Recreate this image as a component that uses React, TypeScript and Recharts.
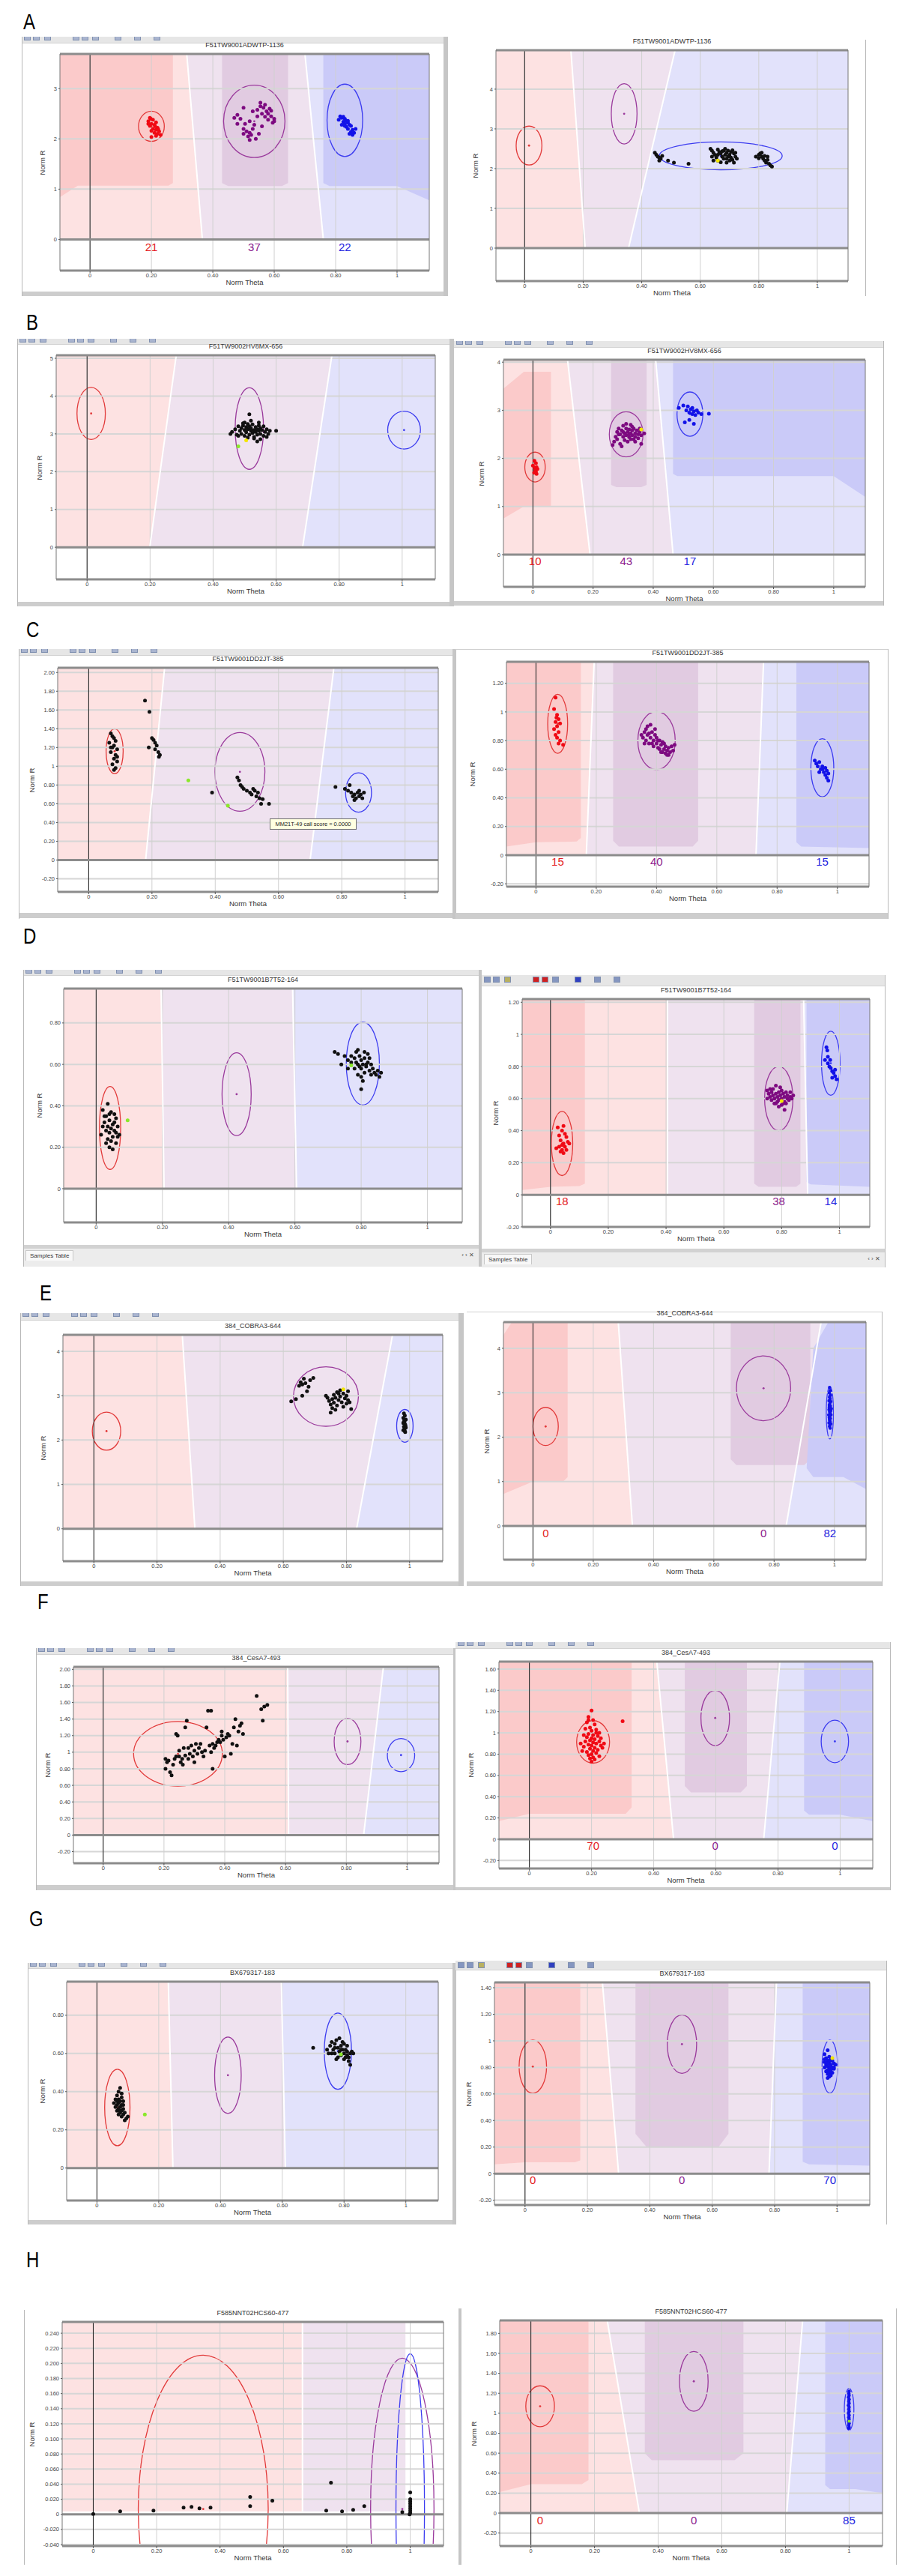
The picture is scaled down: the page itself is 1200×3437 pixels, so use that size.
import React from 'react';
import { ComposedChart, Scatter, XAxis, YAxis, ReferenceArea, ReferenceLine, ReferenceDot } from 'recharts';

type Pt = [number, number];

const SANS = '"Liberation Sans", Arial, sans-serif';
const XL = -0.098;
const XR = 1.105;
const X_TICKS = [0, 0.2, 0.4, 0.6, 0.8, 1];

// ---------------- titles ----------------
const TITLE_A = 'F51TW9001ADWTP-1136';
const TITLE_B = 'F51TW9002HV8MX-656';
const TITLE_C = 'F51TW9001DD2JT-385';
const TITLE_D = 'F51TW9001B7T52-164';
const TITLE_E = '384_COBRA3-644';
const TITLE_F = '384_CesA7-493';
const TITLE_G = 'BX679317-183';
const TITLE_H = 'F585NNT02HCS60-477';
const ROW_LETTERS = ['A', 'B', 'C', 'D', 'E', 'F', 'G', 'H'];

// ---------------- y axis ----------------
const yInt4 = [0, 1, 2, 3];
const yInt5 = [0, 1, 2, 3, 4];
const yInt6 = [0, 1, 2, 3, 4, 5];
const yDec20 = [-0.2, 0, 0.2, 0.4, 0.6, 0.8, 1, 1.2, 1.4, 1.6, 1.8, 2];
const yDec12 = [-0.2, 0, 0.2, 0.4, 0.6, 0.8, 1, 1.2];
const yDec08 = [0, 0.2, 0.4, 0.6, 0.8];
const yDec16 = [-0.2, 0, 0.2, 0.4, 0.6, 0.8, 1, 1.2, 1.4, 1.6];
const yDec14 = [-0.2, 0, 0.2, 0.4, 0.6, 0.8, 1, 1.2, 1.4];
const yDec18 = [-0.2, 0, 0.2, 0.4, 0.6, 0.8, 1, 1.2, 1.4, 1.6, 1.8];
const yMilli = [-0.04, -0.02, 0, 0.02, 0.04, 0.06, 0.08, 0.1, 0.12, 0.14, 0.16, 0.18, 0.2, 0.22, 0.24];

const aL_yDom: Pt = [-0.62, 3.69];
const aR_yDom: Pt = [-0.83, 4.98];
const bL_yDom: Pt = [-0.85, 5.08];
const bR_yDom: Pt = [-0.67, 4.05];
const cL_yDom: Pt = [-0.34, 2.05];
const cR_yDom: Pt = [-0.22, 1.35];
const dL_yDom: Pt = [-0.163, 0.966];
const dR_yDom: Pt = [-0.2, 1.22];
const eL_yDom: Pt = [-0.73, 4.37];
const eR_yDom: Pt = [-0.76, 4.59];
const fL_yDom: Pt = [-0.34, 2.03];
const fR_yDom: Pt = [-0.275, 1.67];
const gL_yDom: Pt = [-0.17, 0.976];
const gR_yDom: Pt = [-0.236, 1.44];
const hL_yDom: Pt = [-0.042, 0.255];
const hR_yDom: Pt = [-0.33, 1.93];

// ---------------- cluster boundaries: [theta at top, theta at R=0] ----------------
const aL_bounds: Pt[] = [[0.315, 0.366], [0.7, 0.76]];
const aR_bounds: Pt[] = [[0.158, 0.207], [0.514, 0.355]];
const bL_bounds: Pt[] = [[0.283, 0.199], [0.777, 0.684]];
const bR_bounds: Pt[] = [[0.115, 0.19], [0.408, 0.466]];
const cL_bounds: Pt[] = [[0.24, 0.18], [0.775, 0.7]];
const cR_bounds: Pt[] = [[0.193, 0.167], [0.755, 0.73]];
const dL_bounds: Pt[] = [[0.196, 0.205], [0.593, 0.605]];
const dR_bounds: Pt[] = [[0.405, 0.405], [0.876, 0.89]];
const eL_bounds: Pt[] = [[0.28, 0.32], [0.946, 0.832]];
const eR_bounds: Pt[] = [[0.283, 0.33], [0.956, 0.84]];
const fL_bounds: Pt[] = [[0.607, 0.61], [0.922, 0.857]];
const fR_bounds: Pt[] = [[0.41, 0.464], [0.806, 0.754]];
const gL_bounds: Pt[] = [[0.231, 0.246], [0.597, 0.61]];
const gR_bounds: Pt[] = [[0.248, 0.3], [0.806, 0.782]];
const hL_bounds: Pt[] = [[0.66, 0.66], [0.985, 0.985]];
const hR_bounds: Pt[] = [[0.24, 0.341], [0.854, 0.804]];

// ---------------- darker core regions (-9 / 9 / 99 = plot edge) ----------------
const aL_dark: Pt[][] = [
  [[-9, 99], [0.27, 99], [0.27, 1.12], [0.255, 1.07], [-0.04, 1.07], [-9, 0.84]],
  [[0.43, 99], [0.645, 99], [0.645, 1.12], [0.625, 1.06], [0.45, 1.06], [0.43, 1.12]],
  [[0.76, 99], [9, 99], [9, 0.78], [1.0, 1.06], [0.78, 1.06], [0.76, 1.12]],
];
const bR_dark: Pt[][] = [
  [[-9, 3.45], [-0.03, 3.8], [0.06, 3.8], [0.06, 1.0], [-0.03, 1.0], [-9, 0.75]],
  [[0.26, 99], [0.378, 99], [0.378, 1.45], [0.36, 1.4], [0.278, 1.4], [0.26, 1.45]],
  [[0.466, 99], [9, 99], [9, 1.2], [1.0, 1.63], [0.48, 1.63], [0.466, 1.68]],
];
const cR_dark: Pt[][] = [
  [[-9, 99], [0.149, 99], [0.149, 0.12], [0.135, 0.095], [0, 0.09], [-9, 0.06]],
  [[0.256, 99], [0.538, 99], [0.538, 0.1], [0.52, 0.06], [0.275, 0.06], [0.256, 0.1]],
  [[0.864, 99], [9, 99], [9, 0.05], [0.88, 0.06], [0.864, 0.09]],
];
const dR_dark: Pt[][] = [
  [[-9, 99], [0.119, 99], [0.119, 0.07], [0.1, 0.055], [0, 0.05], [-9, 0.03]],
  [[0.705, 99], [0.865, 99], [0.865, 0.07], [0.85, 0.05], [0.72, 0.05], [0.705, 0.07]],
  [[0.886, 99], [9, 99], [9, 0.05], [0.9, 0.065], [0.886, 0.08]],
];
const eR_dark: Pt[][] = [
  [[-9, 4.3], [-0.07, 99], [0.115, 99], [0.115, 1.1], [0.1, 1.0], [0, 1.0], [-9, 0.72]],
  [[0.656, 99], [0.92, 99], [0.92, 1.5], [0.9, 1.37], [0.675, 1.37], [0.656, 1.5]],
  [[0.98, 99], [9, 99], [9, 0.83], [1.03, 1.1], [0.93, 1.1], [0.908, 1.3], [0.93, 4.0]],
];
const fR_dark: Pt[][] = [
  [[-9, 99], [0.329, 99], [0.329, 0.3], [0.31, 0.24], [0, 0.24], [-9, 0.17]],
  [[0.5, 99], [0.7, 99], [0.7, 0.5], [0.68, 0.44], [0.52, 0.44], [0.5, 0.5]],
  [[0.884, 99], [9, 99], [9, 0.17], [1.0, 0.23], [0.9, 0.23], [0.884, 0.27]],
];
const gR_dark: Pt[][] = [
  [[-9, 99], [0.177, 99], [0.177, 0.1], [0.16, 0.085], [0, 0.085], [-9, 0.07]],
  [[0.354, 99], [0.652, 99], [0.652, 0.3], [0.62, 0.2], [0.39, 0.2], [0.354, 0.3]],
  [[0.89, 99], [9, 99], [9, 0.06], [0.91, 0.07], [0.89, 0.09]],
];
const hR_dark: Pt[][] = [
  [[-9, 99], [0.181, 99], [0.181, 0.33], [0.16, 0.29], [0, 0.29], [-9, 0.21]],
  [[0.358, 99], [0.668, 99], [0.668, 0.6], [0.64, 0.53], [0.38, 0.53], [0.358, 0.6]],
  [[0.925, 99], [9, 99], [9, 0.2], [1.02, 0.24], [0.94, 0.24], [0.925, 0.28]],
];

// ---------------- cluster ellipses [cx, cy, rx, ry]: AA, AB, BB ----------------
const aL_ell = [[0.2, 2.25, 0.042, 0.3], [0.535, 2.35, 0.1, 0.72], [0.83, 2.37, 0.058, 0.72]];
const aR_ell = [[0.015, 2.58, 0.044, 0.49], [0.34, 3.38, 0.044, 0.76], [0.67, 2.32, 0.21, 0.35]];
const bL_ell = [[0.013, 3.54, 0.045, 0.69], [0.515, 3.14, 0.045, 1.08], [1.006, 3.1, 0.052, 0.5]];
const bR_ell = [[0.007, 1.82, 0.034, 0.31], [0.31, 2.5, 0.056, 0.47], [0.522, 2.92, 0.043, 0.46]];
const cL_ell = [[0.082, 1.16, 0.027, 0.24], [0.478, 0.94, 0.079, 0.42], [0.853, 0.72, 0.041, 0.21]];
const cR_ell = [[0.072, 0.917, 0.033, 0.206], [0.4, 0.8, 0.062, 0.203], [0.95, 0.61, 0.038, 0.203]];
const dL_ell = [[0.042, 0.293, 0.032, 0.2], [0.424, 0.456, 0.044, 0.2], [0.805, 0.604, 0.05, 0.2]];
const dR_ell = [[0.04, 0.32, 0.037, 0.2], [0.79, 0.6, 0.049, 0.2], [0.97, 0.82, 0.032, 0.2]];
const eL_ell = [[0.04, 2.2, 0.045, 0.43], [0.735, 2.98, 0.103, 0.67], [0.985, 2.32, 0.026, 0.37]];
const eR_ell = [[0.042, 2.24, 0.042, 0.43], [0.765, 3.1, 0.09, 0.73], [0.985, 2.55, 0.012, 0.59]];
const fL_ell = [[0.246, 0.98, 0.146, 0.39], [0.804, 1.13, 0.044, 0.28], [0.98, 0.965, 0.045, 0.2]];
const fR_ell = [[0.205, 0.915, 0.053, 0.2], [0.598, 1.14, 0.046, 0.26], [0.983, 0.92, 0.044, 0.2]];
const gL_ell = [[0.066, 0.317, 0.041, 0.2], [0.424, 0.486, 0.043, 0.2], [0.78, 0.612, 0.044, 0.2]];
const gR_ell = [[0.025, 0.806, 0.044, 0.2], [0.503, 0.975, 0.047, 0.22], [0.977, 0.806, 0.025, 0.2]];
const hL_ell = [[0.347, 0.007, 0.205, 0.204], [0.975, 0.007, 0.1, 0.2], [1.0, 0.007, 0.045, 0.206]];
const hR_ell = [[0.029, 1.07, 0.045, 0.205], [0.512, 1.32, 0.045, 0.3], [1.0, 1.04, 0.015, 0.21]];

// ---------------- genotype counts ----------------
const aL_counts = [21, 37, 22];
const bR_counts = [10, 43, 17];
const cR_counts = [15, 40, 15];
const dR_counts = [18, 38, 14];
const eR_counts = [0, 0, 82];
const fR_counts = [70, 0, 0];
const gR_counts = [0, 0, 70];
const hR_counts = [0, 0, 85];
const countRow = { aL: -0.15, bR: -0.14, cR: -0.047, dR: -0.04, eR: -0.17, fR: -0.063, gR: -0.05, hR: -0.07 };

// ---------------- samples (Norm Theta, Norm R) ----------------
const aL_red: Pt[] = [[0.195, 2.42], [0.205, 2.38], [0.19, 2.35], [0.215, 2.33], [0.2, 2.3], [0.21, 2.28], [0.195, 2.26], [0.22, 2.22], [0.205, 2.2], [0.215, 2.18], [0.2, 2.16], [0.225, 2.15], [0.21, 2.12], [0.22, 2.1], [0.215, 2.06], [0.2, 2.04], [0.23, 2.08], [0.19, 2.3], [0.212, 2.25], [0.198, 2.4], [0.222, 2.19]];
const aL_pur: Pt[] = [[0.555, 2.72], [0.57, 2.68], [0.565, 2.62], [0.585, 2.6], [0.575, 2.55], [0.56, 2.5], [0.59, 2.45], [0.6, 2.4], [0.58, 2.38], [0.595, 2.32], [0.545, 2.58], [0.53, 2.55], [0.5, 2.62], [0.48, 2.48], [0.47, 2.42], [0.49, 2.4], [0.52, 2.35], [0.505, 2.3], [0.51, 2.15], [0.52, 2.12], [0.5, 2.1], [0.525, 2.08], [0.515, 2.05], [0.53, 2.2], [0.54, 2.0], [0.55, 2.1], [0.56, 2.25], [0.48, 2.3], [0.545, 2.45], [0.57, 2.44], [0.58, 2.5], [0.6, 2.35], [0.535, 2.28], [0.59, 2.56], [0.555, 2.65], [0.5, 2.2], [0.52, 1.98]];
const aL_blu: Pt[] = [[0.815, 2.45], [0.82, 2.42], [0.83, 2.4], [0.835, 2.36], [0.825, 2.34], [0.84, 2.32], [0.83, 2.3], [0.845, 2.28], [0.85, 2.26], [0.835, 2.24], [0.84, 2.2], [0.855, 2.18], [0.85, 2.14], [0.86, 2.12], [0.845, 2.1], [0.82, 2.28], [0.81, 2.38], [0.865, 2.2], [0.83, 2.26], [0.825, 2.44], [0.84, 2.36], [0.855, 2.08]];

const aR_blk: Pt[] = [[0.445, 2.4], [0.45, 2.35], [0.455, 2.3], [0.46, 2.28], [0.465, 2.25], [0.47, 2.32], [0.49, 2.2], [0.51, 2.15], [0.56, 2.12], [0.46, 2.2],
  [0.635, 2.5], [0.64, 2.45], [0.645, 2.4], [0.65, 2.35], [0.64, 2.3], [0.66, 2.48], [0.665, 2.42], [0.67, 2.38], [0.68, 2.45], [0.685, 2.5], [0.69, 2.4], [0.7, 2.35], [0.695, 2.3], [0.705, 2.42], [0.71, 2.46], [0.715, 2.38], [0.72, 2.3], [0.725, 2.25], [0.71, 2.22], [0.7, 2.2], [0.69, 2.15], [0.68, 2.25], [0.675, 2.3], [0.66, 2.2], [0.655, 2.28], [0.645, 2.2], [0.67, 2.16], [0.685, 2.35], [0.695, 2.45], [0.705, 2.28], [0.715, 2.15], [0.72, 2.4], [0.66, 2.35], [0.675, 2.44], [0.69, 2.25],
  [0.79, 2.3], [0.8, 2.35], [0.805, 2.38], [0.81, 2.3], [0.815, 2.25], [0.82, 2.32], [0.82, 2.2], [0.825, 2.15], [0.83, 2.22], [0.835, 2.12], [0.84, 2.08], [0.845, 2.05], [0.8, 2.26], [0.83, 2.3], [0.81, 2.4]];
const aR_yel: Pt[] = [[0.66, 2.2]];

const bL_blk: Pt[] = [[0.46, 3.05], [0.47, 3.12], [0.475, 2.98], [0.48, 3.2], [0.485, 3.08], [0.49, 3.15], [0.49, 3.0], [0.495, 3.22], [0.5, 3.1], [0.5, 2.95], [0.505, 3.18], [0.505, 3.04], [0.51, 3.26], [0.51, 3.12], [0.515, 2.98], [0.515, 3.2], [0.52, 3.08], [0.52, 3.15], [0.525, 3.02], [0.525, 3.25], [0.53, 3.1], [0.53, 2.92], [0.535, 3.18], [0.535, 3.05], [0.54, 3.12], [0.54, 2.98], [0.545, 3.22], [0.545, 3.08], [0.55, 3.15], [0.55, 3.0], [0.555, 3.1], [0.56, 3.2], [0.56, 2.95], [0.565, 3.05], [0.57, 3.12], [0.575, 3.0], [0.58, 3.08], [0.6, 3.08], [0.5, 3.3], [0.52, 3.35], [0.515, 3.52], [0.48, 2.95], [0.53, 2.88], [0.55, 2.86], [0.54, 2.8], [0.57, 2.92], [0.455, 3.0], [0.51, 2.9], [0.495, 3.28], [0.545, 3.3]];
const bL_yel: Pt[] = [[0.505, 2.83]];
const bL_grn: Pt[] = [[0.48, 2.67]];

const bR_red: Pt[] = [[0.005, 1.95], [0.01, 1.9], [0.0, 1.85], [0.012, 1.82], [0.006, 1.8], [0.015, 1.78], [0.008, 1.75], [0.01, 1.72], [0.004, 1.7], [0.012, 1.68]];
const bR_pur: Pt[] = [[0.27, 2.35], [0.275, 2.45], [0.28, 2.55], [0.28, 2.4], [0.285, 2.62], [0.29, 2.5], [0.29, 2.3], [0.295, 2.58], [0.3, 2.45], [0.3, 2.68], [0.305, 2.52], [0.305, 2.38], [0.31, 2.62], [0.31, 2.48], [0.315, 2.55], [0.315, 2.35], [0.32, 2.6], [0.32, 2.44], [0.325, 2.52], [0.325, 2.7], [0.33, 2.48], [0.33, 2.58], [0.335, 2.4], [0.335, 2.62], [0.34, 2.52], [0.34, 2.45], [0.345, 2.58], [0.35, 2.5], [0.35, 2.42], [0.355, 2.55], [0.36, 2.48], [0.36, 2.3], [0.295, 2.25], [0.265, 2.28], [0.31, 2.72], [0.3, 2.55], [0.32, 2.5], [0.325, 2.4], [0.285, 2.5], [0.33, 2.66], [0.34, 2.35], [0.355, 2.62], [0.37, 2.52]];
const bR_blu: Pt[] = [[0.485, 3.05], [0.5, 3.1], [0.51, 3.0], [0.515, 3.08], [0.52, 2.95], [0.525, 3.02], [0.53, 2.92], [0.53, 3.05], [0.535, 2.98], [0.54, 2.9], [0.545, 3.0], [0.55, 2.95], [0.56, 2.92], [0.585, 2.93], [0.52, 2.8], [0.505, 2.75], [0.535, 2.72]];
const bR_yel: Pt[] = [[0.36, 2.6]];

const cL_blk: Pt[] = [[0.07, 1.35], [0.075, 1.32], [0.08, 1.3], [0.065, 1.25], [0.085, 1.27], [0.08, 1.22], [0.075, 1.2], [0.09, 1.18], [0.07, 1.15], [0.085, 1.12], [0.08, 1.08], [0.09, 1.05], [0.075, 1.02], [0.085, 0.98], [0.08, 0.96], [0.09, 1.1], [0.07, 1.2],
  [0.178, 1.7], [0.192, 1.58],
  [0.19, 1.2], [0.2, 1.3], [0.205, 1.28], [0.21, 1.25], [0.21, 1.18], [0.215, 1.22], [0.22, 1.15], [0.225, 1.12], [0.222, 1.1],
  [0.39, 0.72],
  [0.47, 0.88], [0.475, 0.85], [0.48, 0.8], [0.485, 0.78], [0.49, 0.76], [0.5, 0.74], [0.51, 0.72], [0.515, 0.7], [0.52, 0.76], [0.525, 0.74], [0.53, 0.68], [0.535, 0.72], [0.54, 0.66], [0.545, 0.6], [0.55, 0.65], [0.57, 0.6],
  [0.78, 0.78], [0.81, 0.76], [0.82, 0.74], [0.825, 0.8], [0.83, 0.72], [0.835, 0.68], [0.84, 0.7], [0.845, 0.66], [0.85, 0.72], [0.855, 0.68], [0.86, 0.7], [0.865, 0.66], [0.87, 0.72], [0.84, 0.64], [0.855, 0.74]];
const cL_grn: Pt[] = [[0.315, 0.85], [0.44, 0.58]];

const cR_red: Pt[] = [[0.065, 1.1], [0.06, 1.02], [0.07, 0.98], [0.075, 0.95], [0.065, 0.93], [0.08, 0.92], [0.07, 0.9], [0.06, 0.88], [0.075, 0.86], [0.065, 0.84], [0.07, 0.82], [0.08, 0.8], [0.075, 0.78], [0.09, 0.77], [0.068, 0.96]];
const cR_pur: Pt[] = [[0.35, 0.84], [0.355, 0.82], [0.36, 0.86], [0.365, 0.8], [0.37, 0.9], [0.37, 0.84], [0.375, 0.78], [0.38, 0.82], [0.38, 0.91], [0.385, 0.86], [0.39, 0.8], [0.39, 0.76], [0.395, 0.84], [0.4, 0.78], [0.4, 0.82], [0.405, 0.75], [0.41, 0.8], [0.41, 0.74], [0.415, 0.77], [0.42, 0.72], [0.42, 0.79], [0.425, 0.74], [0.43, 0.76], [0.43, 0.71], [0.435, 0.73], [0.44, 0.75], [0.44, 0.7], [0.445, 0.72], [0.45, 0.76], [0.455, 0.73], [0.46, 0.77], [0.36, 0.78], [0.365, 0.88], [0.385, 0.78], [0.395, 0.88], [0.405, 0.8], [0.415, 0.72], [0.425, 0.78], [0.375, 0.85], [0.435, 0.7]];
const cR_blu: Pt[] = [[0.925, 0.66], [0.93, 0.64], [0.935, 0.62], [0.94, 0.65], [0.945, 0.6], [0.95, 0.62], [0.955, 0.58], [0.96, 0.61], [0.96, 0.56], [0.965, 0.59], [0.97, 0.57], [0.965, 0.54], [0.97, 0.52], [0.95, 0.6], [0.94, 0.58]];

const dL_blk: Pt[] = [[0.035, 0.41], [0.02, 0.38], [0.045, 0.37], [0.055, 0.36], [0.03, 0.35], [0.06, 0.34], [0.04, 0.33], [0.025, 0.32], [0.05, 0.31], [0.065, 0.3], [0.035, 0.3], [0.045, 0.29], [0.055, 0.28], [0.03, 0.28], [0.04, 0.27], [0.06, 0.27], [0.07, 0.26], [0.015, 0.26], [0.05, 0.25], [0.035, 0.24], [0.045, 0.23], [0.03, 0.22], [0.04, 0.2], [0.05, 0.19], [0.055, 0.32], [0.025, 0.35], [0.065, 0.25], [0.04, 0.36], [0.02, 0.3], [0.06, 0.22],
  [0.72, 0.66], [0.73, 0.65], [0.75, 0.64], [0.76, 0.62], [0.77, 0.61], [0.78, 0.63], [0.785, 0.66], [0.79, 0.67], [0.795, 0.64], [0.8, 0.62], [0.805, 0.6], [0.81, 0.63], [0.815, 0.59], [0.82, 0.61], [0.825, 0.57], [0.83, 0.6], [0.835, 0.58], [0.84, 0.56], [0.845, 0.55], [0.85, 0.57], [0.855, 0.54], [0.8, 0.58], [0.79, 0.6], [0.81, 0.56], [0.78, 0.58], [0.82, 0.65], [0.77, 0.64], [0.76, 0.58], [0.8, 0.54], [0.79, 0.55], [0.805, 0.52], [0.81, 0.66], [0.8, 0.48], [0.74, 0.6], [0.825, 0.63], [0.83, 0.55], [0.795, 0.59], [0.785, 0.61], [0.815, 0.6], [0.86, 0.56]];
const dL_grn: Pt[] = [[0.095, 0.33], [0.77, 0.595]];

const dR_red: Pt[] = [[0.025, 0.42], [0.045, 0.43], [0.04, 0.4], [0.05, 0.38], [0.03, 0.37], [0.055, 0.36], [0.035, 0.34], [0.06, 0.33], [0.045, 0.32], [0.04, 0.31], [0.05, 0.3], [0.03, 0.3], [0.055, 0.28], [0.04, 0.28], [0.045, 0.26], [0.035, 0.27], [0.065, 0.32], [0.02, 0.29]];
const dR_pur: Pt[] = [[0.75, 0.65], [0.755, 0.63], [0.76, 0.61], [0.765, 0.64], [0.77, 0.62], [0.77, 0.66], [0.775, 0.6], [0.78, 0.63], [0.78, 0.68], [0.785, 0.61], [0.79, 0.64], [0.79, 0.59], [0.795, 0.62], [0.8, 0.6], [0.8, 0.65], [0.805, 0.63], [0.81, 0.61], [0.81, 0.58], [0.815, 0.64], [0.82, 0.6], [0.82, 0.62], [0.825, 0.59], [0.83, 0.61], [0.835, 0.6], [0.84, 0.62], [0.78, 0.57], [0.79, 0.55], [0.8, 0.56], [0.785, 0.58], [0.775, 0.57], [0.765, 0.59], [0.81, 0.53], [0.76, 0.66], [0.795, 0.67], [0.805, 0.57], [0.815, 0.57], [0.83, 0.64], [0.75, 0.6]];
const dR_blu: Pt[] = [[0.955, 0.92], [0.958, 0.9], [0.95, 0.84], [0.96, 0.82], [0.965, 0.8], [0.97, 0.79], [0.968, 0.84], [0.975, 0.77], [0.98, 0.76], [0.985, 0.74], [0.975, 0.73], [0.99, 0.72], [0.96, 0.86], [0.985, 0.78]];
const dR_yel: Pt[] = [[0.8, 0.585]];

const eL_blk: Pt[] = [[0.625, 2.87], [0.64, 2.92], [0.65, 3.22], [0.655, 3.3], [0.66, 3.25], [0.665, 3.38], [0.67, 3.28], [0.675, 3.1], [0.68, 3.2], [0.685, 3.35], [0.695, 3.4], [0.66, 3.0],
  [0.735, 3.0], [0.74, 2.95], [0.745, 2.88], [0.75, 2.8], [0.755, 2.72], [0.755, 2.92], [0.76, 3.02], [0.76, 2.84], [0.765, 2.95], [0.77, 2.78], [0.77, 3.08], [0.775, 2.9], [0.78, 2.98], [0.78, 3.12], [0.785, 2.85], [0.79, 3.05], [0.79, 2.75], [0.795, 2.94], [0.8, 3.0], [0.8, 2.82], [0.805, 3.1], [0.805, 2.9], [0.81, 2.85], [0.75, 2.62], [0.765, 2.68], [0.815, 2.7], [0.775, 3.05],
  [0.982, 2.6], [0.985, 2.55], [0.98, 2.5], [0.988, 2.46], [0.984, 2.42], [0.98, 2.38], [0.986, 2.35], [0.982, 2.3], [0.988, 2.28], [0.984, 2.25], [0.98, 2.22], [0.986, 2.18], [0.983, 2.45], [0.987, 2.32], [0.981, 2.4], [0.985, 2.2]];
const eL_yel: Pt[] = [[0.79, 3.14]];

const eR_blu: Pt[] = [[0.984, 3.12], [0.986, 3.05], [0.983, 3.0], [0.987, 2.95], [0.984, 2.9], [0.986, 2.86], [0.982, 2.82], [0.988, 2.8], [0.985, 2.76], [0.983, 2.72], [0.987, 2.7], [0.985, 2.66], [0.982, 2.62], [0.988, 2.6], [0.984, 2.57], [0.986, 2.54], [0.981, 2.5], [0.989, 2.5], [0.985, 2.47], [0.983, 2.44], [0.987, 2.42], [0.984, 2.38], [0.986, 2.35], [0.982, 2.32], [0.988, 2.3], [0.985, 2.27], [0.984, 2.24], [0.986, 2.2], [0.985, 2.92], [0.983, 2.68], [0.987, 2.58], [0.985, 2.52], [0.984, 2.4], [0.99, 2.64]];

const fL_blk: Pt[] = [[0.205, 0.92], [0.21, 0.88], [0.205, 0.8], [0.215, 0.9], [0.22, 0.76], [0.23, 0.85], [0.225, 0.72], [0.235, 0.92], [0.24, 0.95], [0.24, 1.22], [0.245, 1.2], [0.25, 1.02], [0.25, 0.95], [0.255, 0.88], [0.26, 0.92], [0.262, 0.85], [0.265, 1.05], [0.27, 0.96], [0.27, 1.3], [0.275, 1.38], [0.28, 0.92], [0.28, 1.05], [0.285, 0.98], [0.29, 1.08], [0.295, 0.95], [0.3, 1.02], [0.3, 0.88], [0.305, 1.1], [0.31, 0.98], [0.315, 1.05], [0.32, 1.1], [0.325, 1.0], [0.33, 0.95], [0.335, 1.02], [0.34, 1.3], [0.345, 1.5], [0.355, 1.5], [0.35, 1.08], [0.355, 1.0], [0.36, 0.8], [0.36, 1.1], [0.365, 1.05], [0.37, 1.08], [0.375, 1.12], [0.38, 1.15], [0.385, 1.12], [0.39, 1.2], [0.39, 1.25], [0.395, 1.15], [0.4, 0.95], [0.405, 1.18], [0.41, 1.22], [0.415, 1.2], [0.42, 0.98], [0.425, 1.1], [0.43, 1.3], [0.435, 1.4], [0.44, 1.08], [0.445, 1.25], [0.45, 1.32], [0.455, 1.35], [0.46, 1.22], [0.52, 1.52], [0.53, 1.55], [0.525, 1.38], [0.54, 1.57], [0.505, 1.68]];

const fR_red: Pt[] = [[0.2, 1.21], [0.19, 1.15], [0.205, 1.12], [0.185, 1.1], [0.21, 1.08], [0.195, 1.05], [0.18, 1.04], [0.2, 1.02], [0.215, 1.0], [0.19, 0.99], [0.205, 0.98], [0.22, 0.97], [0.185, 0.96], [0.2, 0.95], [0.21, 0.94], [0.195, 0.93], [0.225, 0.92], [0.18, 0.92], [0.205, 0.91], [0.215, 0.9], [0.19, 0.89], [0.2, 0.88], [0.23, 0.88], [0.175, 0.87], [0.21, 0.86], [0.195, 0.85], [0.22, 0.84], [0.205, 0.83], [0.185, 0.82], [0.215, 0.81], [0.2, 0.8], [0.19, 0.79], [0.225, 0.78], [0.205, 0.77], [0.195, 0.76], [0.21, 0.75], [0.2, 0.73], [0.17, 0.83], [0.235, 0.86], [0.24, 0.9], [0.23, 0.95], [0.165, 0.9], [0.19, 1.12], [0.215, 1.03], [0.3, 1.11], [0.175, 0.98], [0.225, 1.0]];

const gL_blk: Pt[] = [[0.075, 0.42], [0.07, 0.4], [0.065, 0.38], [0.08, 0.37], [0.06, 0.36], [0.075, 0.35], [0.085, 0.35], [0.07, 0.34], [0.08, 0.33], [0.065, 0.33], [0.06, 0.32], [0.075, 0.32], [0.085, 0.31], [0.07, 0.31], [0.08, 0.3], [0.065, 0.3], [0.075, 0.29], [0.09, 0.29], [0.07, 0.28], [0.085, 0.28], [0.08, 0.27], [0.095, 0.26], [0.09, 0.25], [0.1, 0.27], [0.055, 0.34], [0.07, 0.36], [0.08, 0.39], [0.065, 0.35], [0.075, 0.3], [0.085, 0.33],
  [0.7, 0.63], [0.745, 0.62], [0.75, 0.6], [0.755, 0.64], [0.76, 0.66], [0.765, 0.62], [0.77, 0.65], [0.77, 0.6], [0.775, 0.67], [0.78, 0.63], [0.78, 0.58], [0.785, 0.61], [0.79, 0.64], [0.79, 0.59], [0.795, 0.62], [0.8, 0.6], [0.8, 0.57], [0.805, 0.62], [0.81, 0.59], [0.81, 0.61], [0.815, 0.58], [0.82, 0.6], [0.825, 0.61], [0.83, 0.6], [0.815, 0.56], [0.82, 0.54], [0.76, 0.6], [0.775, 0.57], [0.795, 0.66], [0.785, 0.68], [0.8, 0.65], [0.805, 0.58], [0.79, 0.62], [0.77, 0.63], [0.81, 0.64]];
const gL_grn: Pt[] = [[0.155, 0.28], [0.79, 0.595]];

const gR_blu: Pt[] = [[0.97, 0.93], [0.96, 0.9], [0.975, 0.88], [0.965, 0.87], [0.98, 0.86], [0.97, 0.85], [0.985, 0.85], [0.96, 0.84], [0.975, 0.83], [0.99, 0.83], [0.965, 0.82], [0.98, 0.82], [0.97, 0.81], [0.985, 0.8], [0.96, 0.8], [0.975, 0.79], [0.99, 0.79], [0.97, 0.78], [0.98, 0.78], [0.965, 0.77], [0.985, 0.76], [0.975, 0.76], [0.97, 0.75], [0.98, 0.74], [0.975, 0.73], [0.97, 0.72], [0.99, 0.8], [0.995, 0.82], [0.96, 0.86], [0.975, 0.85], [0.98, 0.8], [0.97, 0.83]];
const gR_yel: Pt[] = [[0.985, 0.87]];

const hL_blk: Pt[] = [[0, 0.0005], [0.085, 0.004], [0.19, 0.005], [0.285, 0.009], [0.31, 0.01], [0.335, 0.008], [0.37, 0.009], [0.495, 0.023], [0.495, 0.011], [0.565, 0.018], [0.735, 0.005], [0.75, 0.042], [0.785, 0.004], [0.82, 0.006], [0.855, 0.011], [0.975, 0.003], [1.0, 0.029], [1.0, 0.02], [1.0, 0.017], [1.0, 0.014], [1.0, 0.011], [1.0, 0.008], [1.0, 0.005], [1.0, 0.002], [0.998, 0.0]];

const hR_blu: Pt[] = [[1.0, 1.22], [0.999, 1.2], [1.0, 1.18], [0.998, 1.16], [1.0, 1.14], [0.999, 1.12], [1.0, 1.1], [0.998, 1.08], [1.0, 1.06], [0.999, 1.04], [1.0, 1.02], [0.998, 1.0], [1.0, 0.98], [0.999, 0.96], [1.0, 0.94], [0.998, 0.92], [1.0, 0.9], [0.999, 0.88], [1.0, 0.86], [0.999, 0.85]];
const hR_grn: Pt[] = [[1.0, 0.92]];

// ---------------- styles ----------------
const FILL = { lRed: '#fde2e2', lPur: '#efe2ef', lBlu: '#e2e2fb', dRed: '#fbcaca', dPur: '#e1cbe1', dBlu: '#cacaf8' };
const ELL_COLORS = ['#e23a3a', '#9a3a9c', '#3c3cf0'];
const COUNT_COLORS = ['#e41b23', '#8b1c8e', '#2323e0'];
const PC = { blk: '#111111', red: '#f00a14', pur: '#7d0a80', blu: '#1212e8', yel: '#f2e600', grn: '#8be82a' };

const fmtX = (v: number) => (v === 0 ? '0' : v === 1 ? '1' : v.toFixed(2));
const fmtY = (dec: number) => (v: number) => {
  if (Math.abs(v) < 1e-9) return '0';
  if (dec === 0) return String(Math.round(v));
  if (Math.abs(v - 1) < 1e-9) return '1';
  return v.toFixed(dec);
};

function XTick(props: any) {
  const { x, y, payload } = props;
  return (
    <g transform={`translate(${x},${y})`}>
      <text textAnchor="middle" dy="0.72em" fontSize={7.5} fill="#444" fontFamily={SANS}>{fmtX(payload.value)}</text>
    </g>
  );
}
const yTick = (dec: number) => (props: any) => {
  const { x, y, payload } = props;
  return (
    <g transform={`translate(${x},${y})`}>
      <text textAnchor="end" dy="0.35em" fontSize={7.5} fill="#444" fontFamily={SANS}>{fmtY(dec)(payload.value)}</text>
    </g>
  );
};

const dot = (color: string, r: number) => (p: any) => <circle cx={p.cx} cy={p.cy} r={r} fill={color} />;
const countShape = (p: any) => {
  const d = p.payload ?? p;
  return (
    <text x={p.cx} y={p.cy} textAnchor="middle" dy="0.36em" fontSize={15} fill={d.c} fontFamily={SANS}>{d.t}</text>
  );
};
const ellShape = (color: string) => (p: any) => (
  <ellipse cx={p.x + p.width / 2} cy={p.y + p.height / 2} rx={Math.abs(p.width) / 2} ry={Math.abs(p.height) / 2} fill="none" stroke={color} strokeWidth={1.3} clipPath={p.clipPath} />
);
const regionShape = (xd: Pt, yd: Pt, polys: { pts: Pt[]; fill: string }[]) => (p: any) => {
  const { x, y, width, height } = p;
  const cl = (v: number, a: number, b: number) => Math.max(a, Math.min(b, v));
  const mx = (v: number) => x + ((cl(v, xd[0], xd[1]) - xd[0]) / (xd[1] - xd[0])) * width;
  const my = (v: number) => y + ((yd[1] - cl(v, yd[0], yd[1])) / (yd[1] - yd[0])) * height;
  return (
    <g>
      {polys.map((pl, i) => (
        <polygon key={i} points={pl.pts.map(([a, b]) => `${mx(a)},${my(b)}`).join(' ')} fill={pl.fill} stroke="none" />
      ))}
    </g>
  );
};

interface Series { pts: Pt[]; color: string; r?: number }
interface PanelData {
  title: string; ydom: Pt; yticks: number[]; ydec: number; bounds: Pt[]; dark: Pt[][]; ell: number[][];
  series: Series[]; counts?: number[]; countY?: number; regionBottom?: number; noBlue?: boolean;
}
interface Box { L: number; T: number; R: number; B: number; rdx: number }

function Panel({ d, b }: { d: PanelData; b: Box }) {
  const YW = 46, XH = 14, PT = 3, PR = 3;
  const x0 = XL, x1 = XR;
  const [y0, y1] = d.ydom;
  const rb = d.regionBottom ?? 0;
  const [[at, ab], [bt, bb]] = d.bounds;
  const polys: { pts: Pt[]; fill: string }[] = [
    { pts: [[x0, y1], [at, y1], [ab, rb], [x0, rb]], fill: FILL.lRed },
    { pts: [[at, y1], [bt, y1], [bb, rb], [ab, rb]], fill: FILL.lPur },
  ];
  if (!d.noBlue) polys.push({ pts: [[bt, y1], [x1, y1], [x1, rb], [bb, rb]], fill: FILL.lBlu });
  const darkFill = [FILL.dRed, FILL.dPur, FILL.dBlu];
  d.dark.forEach((pts, i) => polys.push({ pts, fill: darkFill[i] }));
  const countData = d.counts
    ? d.counts.map((t, i) => ({ x: d.ell[i][0], y: d.countY, t: String(t), c: COUNT_COLORS[i] }))
    : null;
  const W = b.R - b.L + YW + PR;
  const H = b.B - b.T + PT + XH;
  return (
    <>
      <div style={{ position: 'absolute', left: b.L - YW, top: b.T - PT }}>
        <ComposedChart width={W} height={H} margin={{ top: PT, right: PR, bottom: 0, left: 0 }}>
          <XAxis type="number" dataKey="x" domain={[x0, x1]} allowDataOverflow ticks={X_TICKS} interval={0}
            axisLine={false} tickLine={{ stroke: '#555' }} tickSize={3} tickMargin={1} height={XH} tick={XTick} />
          <YAxis type="number" dataKey="y" domain={[y0, y1]} allowDataOverflow ticks={d.yticks} interval={0}
            axisLine={false} tickLine={{ stroke: '#555' }} tickSize={2} tickMargin={2} width={YW} tick={yTick(d.ydec)} />
          <ReferenceArea x1={x0} x2={x1} y1={rb} y2={y1} ifOverflow="hidden" shape={regionShape([x0, x1], [rb, y1], polys)} />
          {d.yticks.map((t) => <ReferenceLine key={'h' + t} y={t} stroke="#d6d6d6" strokeWidth={2} />)}
          {X_TICKS.map((t) => <ReferenceLine key={'v' + t} x={t} stroke="#d0d0d0" strokeWidth={1} />)}
          <ReferenceLine segment={[{ x: at, y: y1 }, { x: ab, y: rb }]} stroke="#ffffff" strokeWidth={2} />
          {!d.noBlue && <ReferenceLine segment={[{ x: bt, y: y1 }, { x: bb, y: rb }]} stroke="#ffffff" strokeWidth={2} />}
          <ReferenceLine x={0} stroke="#1a1a1a" strokeWidth={1} />
          <ReferenceLine y={0} stroke="#8c8c8c" strokeWidth={3} />
          <ReferenceLine y={y1} stroke="#8c8c8c" strokeWidth={3} />
          <ReferenceLine y={y0} stroke="#8c8c8c" strokeWidth={3} />
          <ReferenceLine x={x0} stroke="#777" strokeWidth={1} />
          <ReferenceLine x={x1} stroke="#777" strokeWidth={1} />
          {d.ell.map(([cx, cy, rx, ry], i) => (
            <ReferenceArea key={'e' + i} x1={cx - rx} x2={cx + rx} y1={cy - ry} y2={cy + ry} ifOverflow="hidden" shape={ellShape(ELL_COLORS[i])} />
          ))}
          {d.ell.map(([cx, cy], i) => (
            <ReferenceDot key={'c' + i} x={cx} y={cy} r={1.4} fill={ELL_COLORS[i]} stroke="none" />
          ))}
          {d.series.map((s, i) => (
            <Scatter key={'s' + i} data={s.pts.map(([x, y]) => ({ x, y }))} shape={dot(s.color, s.r ?? 2.5)} isAnimationActive={false} />
          ))}
          {countData && <Scatter data={countData} shape={countShape} isAnimationActive={false} />}
        </ComposedChart>
      </div>
      <div style={{ position: 'absolute', left: (b.L + b.R) / 2 - 120, width: 240, top: b.T - 17, textAlign: 'center', fontSize: 9, lineHeight: '11px', fontFamily: SANS, color: '#333' }}>{d.title}</div>
      <div style={{ position: 'absolute', left: (b.L + b.R) / 2 - 60, width: 120, top: b.B + 10, textAlign: 'center', fontSize: 9.5, lineHeight: '11px', fontFamily: SANS, color: '#333' }}>Norm Theta</div>
      <div style={{ position: 'absolute', left: b.L - b.rdx - 30, width: 60, top: (b.T + b.B) / 2 - 6, textAlign: 'center', fontSize: 9.5, lineHeight: '12px', fontFamily: SANS, color: '#333', transform: 'rotate(-90deg)' }}>Norm R</div>
    </>
  );
}

// ---------------- panel assembly ----------------
const PANELS: { d: PanelData; b: Box }[] = [
  { b: { L: 80, T: 72, R: 573, B: 361, rdx: 23 }, d: { title: TITLE_A, ydom: aL_yDom, yticks: yInt4, ydec: 0, bounds: aL_bounds, dark: aL_dark, ell: aL_ell,
    series: [{ pts: aL_red, color: PC.red }, { pts: aL_pur, color: PC.pur }, { pts: aL_blu, color: PC.blu }], counts: aL_counts, countY: countRow.aL } },
  { b: { L: 662, T: 67, R: 1132, B: 375, rdx: 27 }, d: { title: TITLE_A, ydom: aR_yDom, yticks: yInt5, ydec: 0, bounds: aR_bounds, dark: [], ell: aR_ell,
    series: [{ pts: aR_blk, color: PC.blk }, { pts: aR_yel, color: PC.yel }] } },
  { b: { L: 75, T: 474, R: 581, B: 773, rdx: 22 }, d: { title: TITLE_B, ydom: bL_yDom, yticks: yInt6, ydec: 0, bounds: bL_bounds, dark: [], ell: bL_ell,
    series: [{ pts: bL_blk, color: PC.blk }, { pts: bL_yel, color: PC.yel }, { pts: bL_grn, color: PC.grn }] } },
  { b: { L: 672, T: 480, R: 1155, B: 783, rdx: 29 }, d: { title: TITLE_B, ydom: bR_yDom, yticks: yInt5, ydec: 0, bounds: bR_bounds, dark: bR_dark, ell: bR_ell,
    series: [{ pts: bR_red, color: PC.red }, { pts: bR_pur, color: PC.pur }, { pts: bR_blu, color: PC.blu }, { pts: bR_yel, color: PC.yel }], counts: bR_counts, countY: countRow.bR } },
  { b: { L: 77, T: 891, R: 585, B: 1190, rdx: 34 }, d: { title: TITLE_C, ydom: cL_yDom, yticks: yDec20, ydec: 2, bounds: cL_bounds, dark: [], ell: cL_ell,
    series: [{ pts: cL_blk, color: PC.blk }, { pts: cL_grn, color: PC.grn }] } },
  { b: { L: 676, T: 883, R: 1160, B: 1183, rdx: 45 }, d: { title: TITLE_C, ydom: cR_yDom, yticks: yDec12, ydec: 2, bounds: cR_bounds, dark: cR_dark, ell: cR_ell,
    series: [{ pts: cR_red, color: PC.red }, { pts: cR_pur, color: PC.pur }, { pts: cR_blu, color: PC.blu }], counts: cR_counts, countY: countRow.cR } },
  { b: { L: 85, T: 1319, R: 617, B: 1631, rdx: 32 }, d: { title: TITLE_D, ydom: dL_yDom, yticks: yDec08, ydec: 2, bounds: dL_bounds, dark: [], ell: dL_ell,
    series: [{ pts: dL_blk, color: PC.blk }, { pts: dL_grn, color: PC.grn }] } },
  { b: { L: 697, T: 1333, R: 1161, B: 1637, rdx: 35 }, d: { title: TITLE_D, ydom: dR_yDom, yticks: yDec12, ydec: 2, bounds: dR_bounds, dark: dR_dark, ell: dR_ell,
    series: [{ pts: dR_red, color: PC.red }, { pts: dR_pur, color: PC.pur }, { pts: dR_blu, color: PC.blu }, { pts: dR_yel, color: PC.yel }], counts: dR_counts, countY: countRow.dR } },
  { b: { L: 84, T: 1781, R: 591, B: 2083, rdx: 26 }, d: { title: TITLE_E, ydom: eL_yDom, yticks: yInt5, ydec: 0, bounds: eL_bounds, dark: [], ell: eL_ell,
    series: [{ pts: eL_blk, color: PC.blk }, { pts: eL_yel, color: PC.yel }] } },
  { b: { L: 672, T: 1764, R: 1156, B: 2081, rdx: 22 }, d: { title: TITLE_E, ydom: eR_yDom, yticks: yInt5, ydec: 0, bounds: eR_bounds, dark: eR_dark, ell: eR_ell,
    series: [{ pts: eR_blu, color: PC.blu, r: 2.2 }], counts: eR_counts, countY: countRow.eR } },
  { b: { L: 98, T: 2224, R: 586, B: 2486, rdx: 34 }, d: { title: TITLE_F, ydom: fL_yDom, yticks: yDec20, ydec: 2, bounds: fL_bounds, dark: [], ell: fL_ell,
    series: [{ pts: fL_blk, color: PC.blk }] } },
  { b: { L: 666, T: 2217, R: 1165, B: 2493, rdx: 37 }, d: { title: TITLE_F, ydom: fR_yDom, yticks: yDec16, ydec: 2, bounds: fR_bounds, dark: fR_dark, ell: fR_ell,
    series: [{ pts: fR_red, color: PC.red }], counts: fR_counts, countY: countRow.fR } },
  { b: { L: 89, T: 2644, R: 585, B: 2936, rdx: 32 }, d: { title: TITLE_G, ydom: gL_yDom, yticks: yDec08, ydec: 2, bounds: gL_bounds, dark: [], ell: gL_ell,
    series: [{ pts: gL_blk, color: PC.blk }, { pts: gL_grn, color: PC.grn }] } },
  { b: { L: 660, T: 2645, R: 1161, B: 2942, rdx: 34 }, d: { title: TITLE_G, ydom: gR_yDom, yticks: yDec14, ydec: 2, bounds: gR_bounds, dark: gR_dark, ell: gR_ell,
    series: [{ pts: gR_blu, color: PC.blu }, { pts: gR_yel, color: PC.yel }], counts: gR_counts, countY: countRow.gR } },
  { b: { L: 83, T: 3098, R: 592, B: 3397, rdx: 40 }, d: { title: TITLE_H, ydom: hL_yDom, yticks: yMilli, ydec: 3, bounds: hL_bounds, dark: [], ell: hL_ell,
    series: [{ pts: hL_blk, color: PC.blk }], regionBottom: 0.004, noBlue: true } },
  { b: { L: 667, T: 3096, R: 1178, B: 3397, rdx: 34 }, d: { title: TITLE_H, ydom: hR_yDom, yticks: yDec18, ydec: 2, bounds: hR_bounds, dark: hR_dark, ell: hR_ell,
    series: [{ pts: hR_blu, color: PC.blu, r: 2.3 }, { pts: hR_grn, color: PC.grn, r: 2 }], counts: hR_counts, countY: countRow.hR } },
];

// ---------------- window chrome (layout only) ----------------
const LETTER_POS = [[31, 17], [35, 418], [35, 828], [31, 1237], [53, 1713], [50, 2125], [39, 2548], [35, 3003]];
const CHROME: any[] = [
  { t: 'tool', x: 29, y: 49, w: 567, h: 8 }, { t: 'bot', x: 29, y: 389, w: 567, h: 6 }, { t: 'split', x: 592, y: 49, w: 6, h: 346 }, { t: 'vl', x: 29, y: 49, h: 346 },
  { t: 'vl', x: 1155, y: 53, h: 342 },
  { t: 'tool', x: 23, y: 452, w: 578, h: 7 }, { t: 'bot', x: 23, y: 803, w: 578, h: 6 }, { t: 'split', x: 600, y: 452, w: 6, h: 357 }, { t: 'vl', x: 23, y: 452, h: 357 },
  { t: 'tool', x: 606, y: 455, w: 573, h: 8 }, { t: 'bot', x: 606, y: 802, w: 573, h: 6 }, { t: 'vl', x: 1179, y: 455, h: 353 },
  { t: 'tool', x: 25, y: 866, w: 579, h: 8 }, { t: 'bot', x: 25, y: 1218, w: 579, h: 7 }, { t: 'split', x: 604, y: 866, w: 5, h: 360 }, { t: 'vl', x: 25, y: 866, h: 360 },
  { t: 'hl', x: 608, y: 866, w: 577 }, { t: 'bot', x: 608, y: 1218, w: 577, h: 8 }, { t: 'vl', x: 1185, y: 866, h: 360 },
  { t: 'tool', x: 31, y: 1294, w: 608, h: 7 }, { t: 'samples', x: 31, y: 1661, w: 608, h: 29 }, { t: 'split', x: 639, y: 1294, w: 4, h: 396 }, { t: 'vl', x: 31, y: 1294, h: 396 },
  { t: 'toolc', x: 643, y: 1301, w: 538, h: 14 }, { t: 'samples', x: 643, y: 1666, w: 538, h: 25 }, { t: 'vl', x: 1181, y: 1301, h: 390 },
  { t: 'tool', x: 27, y: 1752, w: 585, h: 9 }, { t: 'bot', x: 27, y: 2110, w: 585, h: 6 }, { t: 'split', x: 612, y: 1752, w: 7, h: 364 }, { t: 'vl', x: 27, y: 1752, h: 364 },
  { t: 'hl', x: 623, y: 1750, w: 554 }, { t: 'bot', x: 623, y: 2110, w: 554, h: 6 }, { t: 'vl', x: 1177, y: 1750, h: 366 },
  { t: 'tool', x: 48, y: 2199, w: 558, h: 8 }, { t: 'bot', x: 48, y: 2515, w: 558, h: 7 }, { t: 'split', x: 605, y: 2199, w: 3, h: 323 }, { t: 'vl', x: 48, y: 2199, h: 323 },
  { t: 'tool', x: 608, y: 2191, w: 580, h: 8 }, { t: 'bot', x: 608, y: 2518, w: 580, h: 4 }, { t: 'vl', x: 1188, y: 2191, h: 331 },
  { t: 'tool', x: 37, y: 2619, w: 569, h: 7 }, { t: 'bot', x: 37, y: 2962, w: 569, h: 6 }, { t: 'split', x: 604, y: 2619, w: 5, h: 349 }, { t: 'vl', x: 37, y: 2619, h: 349 },
  { t: 'toolc', x: 608, y: 2616, w: 575, h: 12 }, { t: 'vl', x: 1183, y: 2616, h: 352 },
  { t: 'vl', x: 32, y: 3082, h: 340 }, { t: 'split', x: 612, y: 3080, w: 4, h: 342 }, { t: 'vl', x: 1196, y: 3080, h: 342 },
];
const ICON_OFFS = [3, 15, 30, 68, 80, 94, 124, 150, 176];
const ICON_COLS = ['#8596c0', '#8596c0', '#b8b060', '#d02020', '#d02020', '#8596c0', '#3040c0', '#8596c0', '#8596c0'];

function Chrome({ c }: { c: any }) {
  const base: React.CSSProperties = { position: 'absolute', left: c.x, top: c.y };
  if (c.t === 'tool' || c.t === 'toolc') {
    return (
      <div style={{ ...base, width: c.w, height: c.h, background: '#e6e6e6', borderBottom: '1px solid #d2d2d2', overflow: 'hidden' }}>
        {ICON_OFFS.map((o, i) => (
          <div key={i} style={{ position: 'absolute', left: o, top: c.t === 'toolc' ? 2 : -3, width: 9, height: 8, background: c.t === 'toolc' ? ICON_COLS[i] : '#a9b4cf', border: '1px solid #8090b0', boxSizing: 'border-box' }} />
        ))}
      </div>
    );
  }
  if (c.t === 'bot') return <div style={{ ...base, width: c.w, height: c.h, background: '#cdcdcd' }} />;
  if (c.t === 'split') return <div style={{ ...base, width: c.w, height: c.h, background: '#c6c6c6' }} />;
  if (c.t === 'vl') return <div style={{ ...base, width: 1, height: c.h, background: '#b8b8b8' }} />;
  if (c.t === 'hl') return <div style={{ ...base, width: c.w, height: 1, background: '#d0d0d0' }} />;
  if (c.t === 'samples') {
    return (
      <div style={{ ...base, width: c.w, height: c.h, background: '#ececec', borderTop: '5px solid #d2d2d2', boxSizing: 'border-box' }}>
        <div style={{ position: 'absolute', left: 3, top: 2, padding: '2px 5px', background: '#f8f8f8', border: '1px solid #c8c8c8', borderBottom: 'none', fontSize: 8, fontFamily: SANS, color: '#333' }}>Samples Table</div>
        <div style={{ position: 'absolute', right: 6, top: 4, fontSize: 8, fontFamily: SANS, color: '#555' }}>‹ › ✕</div>
      </div>
    );
  }
  return null;
}

export default function App() {
  return (
    <div style={{ position: 'absolute', left: 0, top: 0, width: 1200, height: 3437, background: '#ffffff', overflow: 'hidden' }}>
      {CHROME.map((c, i) => <Chrome key={i} c={c} />)}
      {ROW_LETTERS.map((l, i) => (
        <div key={l} style={{ position: 'absolute', left: LETTER_POS[i][0], top: LETTER_POS[i][1] - 3.5, fontSize: 30, lineHeight: '30px', fontFamily: SANS, color: '#000', transform: 'scaleX(0.8)', transformOrigin: 'left top' }}>{l}</div>
      ))}
      {PANELS.map((p, i) => <Panel key={i} d={p.d} b={p.b} />)}
      <div style={{ position: 'absolute', left: 360, top: 1092, width: 114, height: 13, background: '#ffffe1', border: '1px solid #707070', fontSize: 7.5, lineHeight: '13px', fontFamily: SANS, color: '#222', textAlign: 'center' }}>MM21T-49 call score = 0.0000</div>
    </div>
  );
}
